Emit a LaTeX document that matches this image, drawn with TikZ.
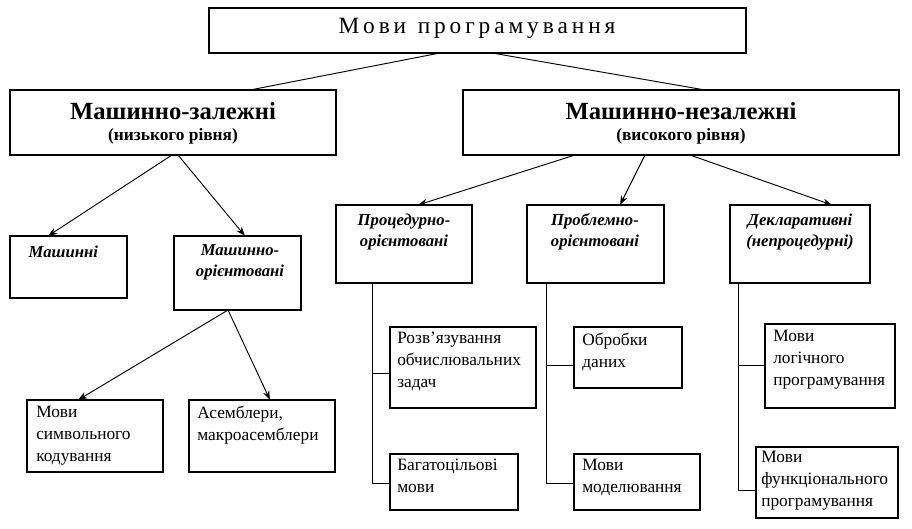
\documentclass[tikz,border=0pt]{standalone}
\usepackage{fontspec}
\setmainfont{Liberation Serif}
\usetikzlibrary{arrows.meta}
\newcommand\bx[5]{\node[box,minimum width={(#4-#2)*0.75pt},minimum height={(#5-#3)*0.75pt}] (#1) at ({(#2+#4)/2},{(#3+#5)/2}) {};}
\begin{document}
\begin{tikzpicture}[x=0.75pt,y=-0.75pt,
  box/.style={draw,line width=0.8pt,inner sep=0pt,outer sep=0pt},
  arr/.style={line width=0.7pt,-{Stealth[length=7pt,width=5pt]}},
  ln/.style={line width=0.7pt},
  big/.style={font=\fontsize{18.5}{21}\selectfont\bfseries,align=center},
  mid/.style={font=\fontsize{12.5}{16}\selectfont\bfseries\itshape,align=center},
  leaf/.style={font=\fontsize{13}{16.5}\selectfont,align=left,anchor=north west,inner sep=0pt}]
\useasboundingbox (0,0) rectangle (912,528);
\bx{top}{209}{8}{746}{53}
\node[font=\fontsize{17.5}{20}\selectfont] at (477,28) {М\,о\,в\,и\ \ п\,р\,о\,г\,р\,а\,м\,у\,в\,а\,н\,н\,я};
\bx{L}{10}{90}{336}{155}
\node[big] at (173,111) {Машинно-залежні};
\node[font=\fontsize{13}{15}\selectfont\bfseries] at (173,136) {(низького рівня)};
\bx{R}{463}{90}{899}{155}
\node[big] at (681,111) {Машинно-незалежні};
\node[font=\fontsize{13}{15}\selectfont\bfseries] at (681,136) {(високого рівня)};
\bx{m1}{10}{236}{127}{298}
\node[mid,anchor=west] at (24,252) {Машинні};
\bx{m2}{174}{236}{301}{310}
\node[mid] at (240,262) {Машинно-\\орієнтовані};
\bx{p1}{336}{205}{472}{283}
\node[mid] at (404,232) {Процедурно-\\орієнтовані};
\bx{p2}{527}{205}{664}{283}
\node[mid] at (595,232) {Проблемно-\\орієнтовані};
\bx{p3}{730}{205}{870}{283}
\node[mid] at (800,232) {Декларативні\\(непроцедурні)};
\bx{s1}{27}{400}{163}{472}
\node[leaf] at (36,406) {Мови\\символьного\\кодування};
\bx{s2}{189}{400}{335}{472}
\node[leaf] at (197,406) {Асемблери,\\макроасемблери};
\bx{a1}{390}{327}{536}{408}
\node[leaf] at (397,332) {Розв’язування\\обчислювальних\\задач};
\bx{a2}{390}{454}{518}{510}
\node[leaf] at (397,459) {Багатоцільові\\мови};
\bx{b1}{574}{327}{682}{388}
\node[leaf] at (582,333) {Обробки\\даних};
\bx{b2}{574}{454}{700}{510}
\node[leaf] at (582,459) {Мови\\моделювання};
\bx{c1}{765}{324}{895}{408}
\node[leaf] at (773,330) {Мови\\логічного\\програмування};
\bx{c2}{756}{447}{898}{518}
\node[leaf] at (761,451) {Мови\\функціонального\\програмування};
% connectors
\draw[ln] (top.south -| 440,0) -- (L.north -| 250,0);
\draw[ln] (top.south -| 492,0) -- (R.north -| 705,0);
\draw[arr] (L.south -| 172,0) -- (m1.north -| 48,0);
\draw[arr] (L.south -| 178,0) -- (m2.north -| 245,0);
\draw[arr] (R.south -| 575,0) -- (p1.north -| 418,0);
\draw[arr] (R.south -| 645,0) -- (p2.north -| 620,0);
\draw[arr] (R.south -| 690,0) -- (p3.north -| 832,0);
\draw[arr] (m2.south -| 228,0) -- (s1.north -| 78,0);
\draw[arr] (m2.south -| 228,0) -- (s2.north -| 270,0);
\coordinate (t1) at (372,483); \coordinate (t2) at (546,483); \coordinate (t3) at (738,490);
\draw[ln] (p1.south -| t1) -- (t1) -- (t1 -| a2.west);
\draw[ln] (372,373) -- (372,373 -| a1.west);
\draw[ln] (p2.south -| t2) -- (t2) -- (t2 -| b2.west);
\draw[ln] (546,365) -- (546,365 -| b1.west);
\draw[ln] (p3.south -| t3) -- (t3) -- (t3 -| c2.west);
\draw[ln] (738,365) -- (738,365 -| c1.west);
\end{tikzpicture}
\end{document}
